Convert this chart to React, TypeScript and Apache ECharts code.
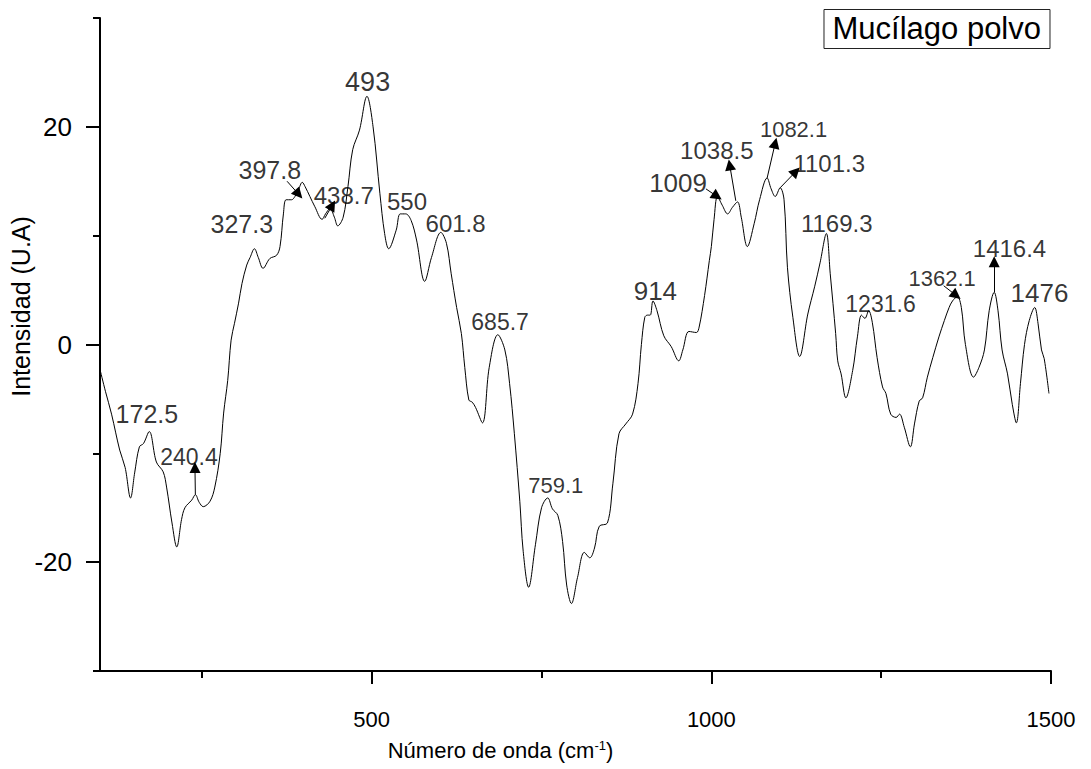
import React, { useEffect, useRef } from "react";
import * as echarts from "echarts";

// Raman-type spectrum of powdered mucilage: wavenumber (cm-1) and intensity (U.A)
const wavenumber = [
  100, 108, 117, 129, 137, 145, 151, 158, 164, 172.5, 183, 193, 198, 206, 213, 220, 225, 235,
  240.4, 246, 252, 262, 269, 277, 282, 288, 293, 298, 304, 309, 316, 321, 327.3, 333, 340, 350,
  360, 365, 370, 374, 382, 387, 392, 397.8, 402, 409, 416, 427, 432, 438.7, 445, 450, 458, 465,
  472, 482, 493, 502, 512, 519, 525, 536, 542, 550, 558, 566, 578, 588, 601.8, 610, 617, 625,
  632, 637, 643, 648, 653, 663, 673, 685.7, 696, 703, 710, 718, 723, 731, 741, 750, 759.1, 766,
  774, 781, 787, 794, 803, 813, 821, 828, 835, 847, 855, 864, 874, 884, 892, 897, 902, 906, 910,
  914, 920, 930, 941, 952, 958, 967, 978, 982, 990, 997, 1000, 1004, 1009, 1016, 1024, 1031,
  1038.5, 1044, 1053, 1063, 1071, 1082.1, 1088, 1094, 1101.3, 1107, 1112, 1120, 1130, 1142,
  1152, 1160, 1169.3, 1175, 1183, 1186, 1191, 1198, 1208, 1215, 1221, 1226, 1231.6, 1237, 1244,
  1252, 1257, 1264, 1272, 1277, 1284, 1293, 1299, 1306, 1311, 1318, 1326, 1335, 1343, 1350, 1355,
  1362.1, 1368, 1374, 1386, 1394, 1402, 1409, 1416.4, 1422, 1428, 1436, 1443, 1449, 1455, 1461,
  1468, 1476, 1481, 1486, 1490, 1497,
];
const intensity = [
  -2.3, -4.3, -6.4, -9.7, -11.3, -14.1, -11.8, -9.4, -9.1, -8.0, -10.8, -11.7, -13.1, -16.4,
  -18.6, -16.1, -15.0, -14.3, -13.8, -14.5, -14.9, -14.4, -13.1, -10.0, -6.3, -3.3, 0.4, 1.95,
  3.8, 5.6, 7.3, 8.0, 8.8, 8.0, 7.0, 7.9, 8.2, 9.0, 12.0, 13.3, 13.3, 13.6, 14.2, 14.9, 14.5,
  13.6, 12.7, 11.5, 12.0, 12.5, 11.7, 10.9, 11.7, 14.5, 17.9, 19.7, 22.8, 20.0, 13.9, 10.2, 8.8,
  10.5, 12.0, 12.0, 11.4, 9.6, 5.8, 8.0, 10.3, 9.3, 6.5, 3.4, 1.0, -2.1, -5.1, -5.3, -5.8, -7.2,
  -2.1, 0.9, -0.5, -3.6, -8.2, -14.4, -19.0, -22.3, -18.4, -15.0, -14.1, -15.1, -15.7, -18.1,
  -22.1, -23.8, -21.4, -19.1, -19.6, -18.7, -16.7, -16.4, -12.8, -8.2, -7.3, -6.4, -3.6, 0.0,
  2.5, 2.7, 2.7, 4.0, 3.1, 0.8, -0.2, -1.5, -0.5, 1.2, 1.1, 1.6, 4.5, 7.7, 9.0, 11.5, 13.6,
  12.8, 12.0, 12.6, 13.1, 11.7, 9.0, 11.1, 13.3, 15.3, 14.3, 13.6, 14.4, 13.3, 7.1, 2.5, -1.1,
  2.8, 5.3, 7.5, 10.2, 6.5, 1.0, -1.5, -2.7, -4.9, -2.4, 0.7, 2.7, 2.4, 3.1, 2.0, -1.2, -3.9,
  -4.5, -6.4, -6.7, -6.4, -7.6, -9.4, -7.3, -5.2, -4.9, -3.0, -1.2, 0.7, 2.2, 3.4, 4.0, 4.4,
  3.4, 0.0, -3.0, -2.1, -0.5, 3.1, 4.8, 3.1, -0.5, -2.7, -5.5, -7.2, -3.6, 0.0, 2.2, 3.4, 1.9,
  -0.5, -1.3, -4.5,
];

// Assigned bands (cm-1)
const peakWavenumber = [
  172.5, 240.4, 327.3, 397.8, 438.7, 493, 550, 601.8, 685.7, 759.1, 914, 1009, 1038.5, 1082.1,
  1101.3, 1169.3, 1231.6, 1362.1, 1416.4, 1476,
];

// Axis ticks
const xMajorTicks = [500, 1000, 1500];
const xMinorTicks = [250, 750, 1250];
const yMajorTicks = [-20, 0, 20];
const yMinorTicks = [-30, -10, 10, 30];

// Placement of each band label (centre, in axis units) and its font size
const labelAnchor: [number, number][] = [
  [169, -6.4], [231, -10.3], [308.8, 11.1], [350, 16.0], [458.8, 13.7], [494, 24.1],
  [552, 13.1], [623.5, 11.1], [689, 2.1], [771, -13.0], [917.6, 4.9], [951, 14.8],
  [1008, 17.8], [1121, 19.8], [1173.5, 16.6], [1184.6, 11.1], [1249, 3.7], [1339.7, 6.1],
  [1438.9, 8.8], [1483, 4.7],
];
const labelFontSize = [25, 23, 25, 25, 24, 27, 24, 24, 23, 22, 26, 26, 24, 22, 24, 24, 23, 22, 24, 26];

// Pointer arrows: [tail, tip] in axis units
const arrowPath: [number, number][][] = [
  [[240.4, -13.8], [239.8, -11.3]],
  [[375.4, 15.0], [392.5, 13.8]],
  [[430.9, 11.6], [442.0, 12.8]],
  [[992.0, 14.3], [1008.5, 13.6]],
  [[1036.0, 13.2], [1027.0, 16.5]],
  [[1082.1, 15.3], [1094.0, 18.5]],
  [[1101.3, 14.4], [1124.5, 15.9]],
  [[1342.0, 5.4], [1360.5, 4.5]],
  [[1416.4, 4.8], [1416.4, 7.6]],
];

const FONT = "Arial, 'Liberation Sans', Helvetica, sans-serif";

export default function App() {
  const ref = useRef<HTMLDivElement>(null);

  useEffect(() => {
    const chart = echarts.init(ref.current!, null, { renderer: "svg" });
    const spectrum = wavenumber.map((w, i) => [w, intensity[i]]);
    const bandLabels = peakWavenumber.map((w, i) => ({
      name: String(w),
      value: labelAnchor[i],
      label: { fontSize: labelFontSize[i] },
    }));
    const arrows = arrowPath.map(([a, b]) => [{ coord: a }, { coord: b }]);

    const axisLine = { show: true, lineStyle: { color: "#000", width: 2 } };

    chart.setOption({
      animation: false,
      backgroundColor: "#fff",
      title: {
        text: "Mucílago polvo",
        right: 41,
        top: 9,
        borderColor: "#222",
        borderWidth: 1,
        padding: [4, 9, 5, 9],
        textStyle: { fontFamily: FONT, fontSize: 31, fontWeight: "normal", color: "#000" },
      },
      grid: { left: 100, right: 40, top: 18, bottom: 98, containLabel: false, outerBoundsMode: "none" },
      xAxis: [
        {
          type: "value",
          min: 100,
          max: 1500,
          axisLine: { ...axisLine, onZero: false },
          axisTick: { show: true, length: 13, customValues: xMajorTicks, lineStyle: { color: "#000", width: 2 } },
          axisLabel: {
            customValues: xMajorTicks,
            formatter: (v: number) => String(v),
            margin: 37,
            fontFamily: FONT,
            fontSize: 22,
            color: "#000",
          },
          splitLine: { show: false },
          name: "Número de onda (cm{sup|-1})",
          nameLocation: "middle",
          nameGap: 68,
          nameMoveOverlap: false,
          nameTextStyle: {
            fontFamily: FONT,
            fontSize: 22,
            color: "#000",
            padding: [0, 150, 0, 0],
            rich: { sup: { fontFamily: FONT, fontSize: 13, color: "#000", verticalAlign: "top" } },
          },
        },
        {
          type: "value",
          position: "bottom",
          min: 100,
          max: 1500,
          axisLine: { show: false, onZero: false },
          axisTick: { show: true, length: 7, customValues: xMinorTicks, lineStyle: { color: "#000", width: 2 } },
          axisLabel: { show: false },
          splitLine: { show: false },
        },
      ],
      yAxis: [
        {
          type: "value",
          min: -30,
          max: 30,
          axisLine: { ...axisLine, onZero: false },
          axisTick: { show: true, length: 14, customValues: yMajorTicks, lineStyle: { color: "#000", width: 2 } },
          axisLabel: { customValues: yMajorTicks, margin: 28, fontFamily: FONT, fontSize: 26, color: "#000" },
          splitLine: { show: false },
          name: "Intensidad (U.A)",
          nameLocation: "middle",
          nameGap: 67,
          nameRotate: 90,
          nameMoveOverlap: false,
          nameTextStyle: { fontFamily: FONT, fontSize: 25, color: "#000", padding: [0, 0, 0, 76] },
        },
        {
          type: "value",
          position: "left",
          min: -30,
          max: 30,
          axisLine: { show: false, onZero: false },
          axisTick: { show: true, length: 7, customValues: yMinorTicks, lineStyle: { color: "#000", width: 2 } },
          axisLabel: { show: false },
          splitLine: { show: false },
        },
      ],
      series: [
        {
          name: "Mucílago polvo",
          type: "line",
          data: spectrum,
          showSymbol: false,
          smooth: 0.35,
          lineStyle: { color: "#000", width: 1 },
          silent: true,
        },
        {
          name: "bandas",
          type: "scatter",
          data: bandLabels,
          symbolSize: 0,
          silent: true,
          z: 5,
          label: {
            show: true,
            position: "inside",
            formatter: "{b}",
            fontFamily: FONT,
            color: "#000",
          },
          markLine: {
            silent: true,
            symbol: ["none", "triangle"],
            symbolSize: 11,
            label: { show: false },
            lineStyle: { color: "#000", width: 1, type: "solid" },
            emphasis: { disabled: true },
            data: arrows,
          },
        },
      ],
    });
    return () => chart.dispose();
  }, []);

  return (
    <div
      ref={ref}
      style={{ position: "absolute", left: 0, top: 0, width: 1091, height: 769 }}
    />
  );
}
